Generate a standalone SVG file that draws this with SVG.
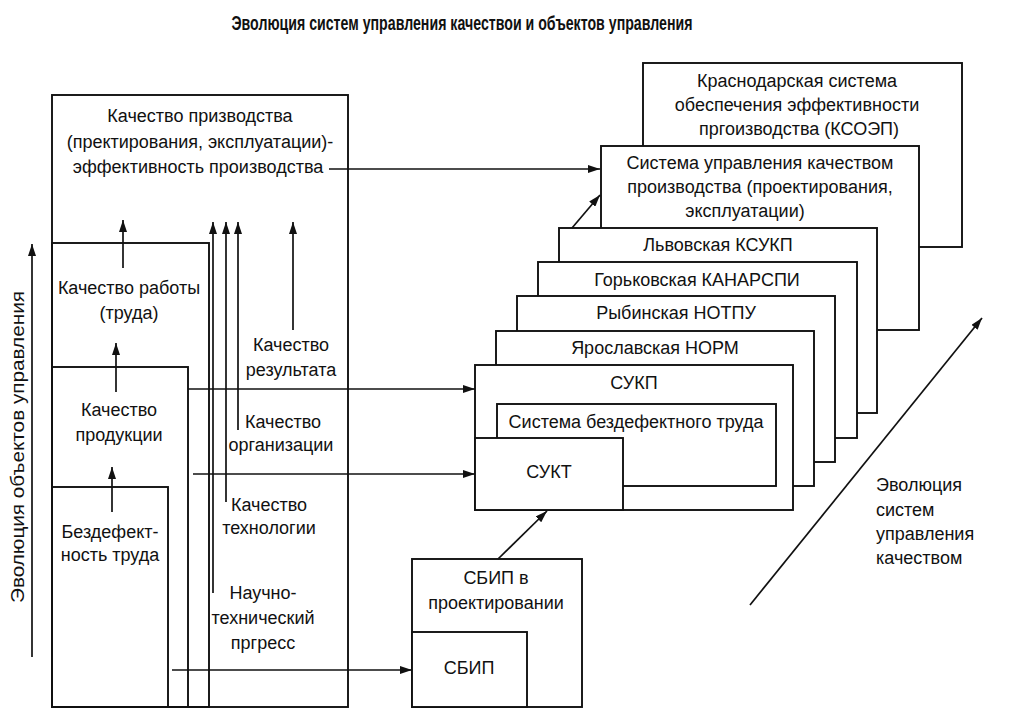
<svg xmlns="http://www.w3.org/2000/svg" width="1017" height="720" viewBox="0 0 1017 720">
<style>
.b{fill:none;stroke:#111;stroke-width:1.9}
.w{fill:#fff;stroke:#111;stroke-width:1.9}
.t{font-family:"Liberation Sans",Arial,sans-serif;font-size:18px;fill:#111;text-anchor:middle}
.l{text-anchor:start}
.h{font-weight:bold;font-size:21px}
.c{fill:none;stroke:#111;stroke-width:1.7;marker-end:url(#ah)}
</style>
<defs>
<marker id="ah" viewBox="0 0 12 8" refX="12" refY="4" markerWidth="12" markerHeight="8" orient="auto" markerUnits="userSpaceOnUse">
<path d="M0,0 L12,4 L0,8 z" fill="#111"/>
</marker>
</defs>
<rect width="1017" height="720" fill="#fff"/>
<text x="462" y="30" class="t h" textLength="461" lengthAdjust="spacingAndGlyphs">Эволюция систем управления качествои и объектов управления</text>

<g id="left-axis">
<text class="t" transform="translate(24,447) rotate(-90)" style="font-size:19px" textLength="312" lengthAdjust="spacingAndGlyphs">Эволюция объектов управления</text>
</g>

<g id="n-proizv">
<rect class="b" x="52" y="95" width="296" height="612"/>
<text class="t" x="200" y="122">Качество призводства</text>
<text class="t" x="200" y="148">(пректирования, эксплуатации)-</text>
<text class="t" x="198" y="173">эффективность производства</text>
</g>
<g id="n-raboty">
<rect class="b" x="52" y="243" width="157" height="464"/>
<text class="t" x="129" y="294">Качество работы</text>
<text class="t" x="129" y="319">(труда)</text>
</g>
<g id="n-produkcii">
<rect class="b" x="52" y="367" width="136" height="340"/>
<text class="t" x="119" y="416">Качество</text>
<text class="t" x="119" y="441">продукции</text>
</g>
<g id="n-bezdef">
<rect class="b" x="52" y="487" width="116" height="220"/>
<text class="t" x="110" y="538">Бездефект-</text>
<text class="t" x="110" y="561">ность труда</text>
</g>
<g id="n-rezultat">
<text class="t" x="291" y="351">Качество</text>
<text class="t" x="291" y="376">результата</text>
</g>
<g id="n-organiz">
<text class="t" x="283" y="428">Качество</text>
<text class="t" x="281" y="451">организации</text>
</g>
<g id="n-tehnol">
<text class="t" x="269" y="511">Качество</text>
<text class="t" x="269" y="534">технологии</text>
</g>
<g id="n-ntp">
<text class="t" x="263" y="599">Научно-</text>
<text class="t" x="263" y="624">технический</text>
<text class="t" x="263" y="649">пргресс</text>
</g>

<g id="n-ksoep">
<rect class="w" x="643" y="63" width="319" height="184"/>
<text class="t" x="797" y="87">Краснодарская система</text>
<text class="t" x="797" y="111">обеспечения эффективности</text>
<text class="t" x="799" y="135">пргоизводства (КСОЭП)</text>
</g>
<g id="n-sukp-proizv">
<rect class="w" x="601" y="146" width="318" height="184"/>
<text class="t" x="760" y="169">Система управления качеством</text>
<text class="t" x="760" y="193">производства (проектирования,</text>
<text class="t" x="745" y="217">эксплуатации)</text>
</g>
<g id="n-lvov">
<rect class="w" x="559" y="228" width="318" height="185"/>
<text class="t" x="718" y="251">Львовская КСУКП</text>
</g>
<g id="n-gork">
<rect class="w" x="538" y="262" width="319" height="176"/>
<text class="t" x="697" y="286">Горьковская КАНАРСПИ</text>
</g>
<g id="n-rybin">
<rect class="w" x="517" y="296" width="318" height="166"/>
<text class="t" x="676" y="319">Рыбинская НОТПУ</text>
</g>
<g id="n-yarosl">
<rect class="w" x="496" y="331" width="318" height="155"/>
<text class="t" x="655" y="354">Ярославская НОРМ</text>
</g>
<g id="n-sukp">
<rect class="w" x="475" y="365" width="318" height="145"/>
<text class="t" x="634" y="389">СУКП</text>
</g>
<g id="n-sbt">
<rect class="w" x="497" y="404" width="279" height="82"/>
<text class="t" x="636" y="428">Система бездефектного труда</text>
</g>
<g id="n-sukt">
<rect class="w" x="475" y="438" width="148" height="72"/>
<text class="t" x="549" y="478">СУКТ</text>
</g>
<g id="n-sbip-proekt">
<rect class="w" x="412" y="559" width="170" height="148"/>
<text class="t" x="496" y="584">СБИП в</text>
<text class="t" x="496" y="609">проектировании</text>
</g>
<g id="n-sbip">
<rect class="w" x="412" y="632" width="115" height="75"/>
<text class="t" x="469" y="674">СБИП</text>
</g>
<g id="n-evol-label">
<text class="t l" x="876" y="491">Эволюция</text>
<text class="t l" x="876" y="516">систем</text>
<text class="t l" x="876" y="540">управления</text>
<text class="t l" x="876" y="564">качеством</text>
</g>

<g id="connectors">
<line class="c" x1="32" y1="657" x2="32" y2="244"/>
<line class="c" x1="123" y1="268" x2="123" y2="220"/>
<line class="c" x1="116" y1="392" x2="116" y2="343"/>
<line class="c" x1="112" y1="512" x2="112" y2="467"/>
<line class="c" x1="213" y1="593" x2="213" y2="222"/>
<line class="c" x1="226" y1="502" x2="226" y2="222"/>
<line class="c" x1="238" y1="430" x2="238" y2="222"/>
<line class="c" x1="293" y1="330" x2="293" y2="222"/>
<line class="c" x1="329" y1="169" x2="600" y2="169"/>
<line class="c" x1="572" y1="228" x2="600" y2="195"/>
<line class="c" x1="188" y1="389" x2="475" y2="389"/>
<line class="c" x1="193" y1="474" x2="475" y2="474"/>
<line class="c" x1="172" y1="670" x2="412" y2="670"/>
<line class="c" x1="498" y1="559" x2="547" y2="511"/>
<line class="c" x1="750" y1="605" x2="982" y2="318"/>
</g>
</svg>
